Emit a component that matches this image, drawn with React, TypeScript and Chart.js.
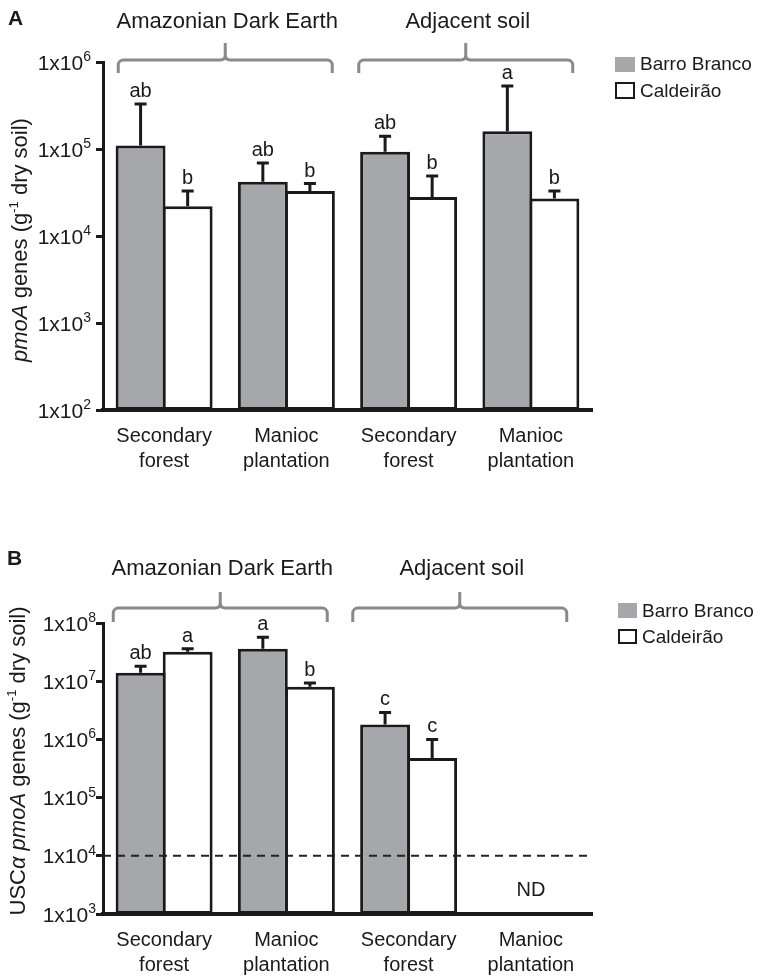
import React, { useEffect, useRef } from "react";
import { Chart, registerables } from "chart.js";

Chart.register(...registerables);

// ---------------- data ----------------
const categories: string[][] = [
  ["Secondary", "forest"],
  ["Manioc", "plantation"],
  ["Secondary", "forest"],
  ["Manioc", "plantation"],
];
const seriesNames = ["Barro Branco", "Caldeirão"];
const groupLabels = ["Amazonian Dark Earth", "Adjacent soil"];

// Panel A: pmoA genes
const aBarro = [1.1e5, 4.2e4, 9.3e4, 1.6e5];
const aBarroErrTop = [3.3e5, 6.9e4, 1.4e5, 5.3e5];
const aCald = [2.2e4, 3.3e4, 2.8e4, 2.7e4];
const aCaldErrTop = [3.3e4, 4.0e4, 4.9e4, 3.3e4];
const aBarroLetters = ["ab", "ab", "ab", "a"];
const aCaldLetters = ["b", "b", "b", "b"];
const aTicks = [1e2, 1e3, 1e4, 1e5, 1e6];

// Panel B: USCα pmoA genes
const bBarro = [1.4e7, 3.6e7, 1.8e6, null];
const bBarroErrTop = [1.8e7, 5.7e7, 2.9e6, null];
const bCald = [3.2e7, 8.0e6, 4.8e5, null];
const bCaldErrTop = [3.6e7, 9.3e6, 1.0e6, null];
const bBarroLetters = ["ab", "a", "c", ""];
const bCaldLetters = ["a", "b", "c", ""];
const bTicks = [1e3, 1e4, 1e5, 1e6, 1e7, 1e8];
const bDetectionLimit = 1e4;
const bNotDetectedIndex = 3;
const bNotDetectedText = "ND";

// ---------------- styling ----------------
const FONT = '"Liberation Sans", Arial, Helvetica, sans-serif';
const INK = "#1a1a1a";
const GRAY = "#a6a7aa";
const BRACKET = "#8a8a8a";

type Run = [string, "n" | "i" | "sup"];

type PanelSpec = {
  barro: (number | null)[];
  barroErr: (number | null)[];
  cald: (number | null)[];
  caldErr: (number | null)[];
  barroLetters: string[];
  caldLetters: string[];
  ticks: number[];
  canvasH: number;
  padTop: number;
  xAxisH: number;
  tickGap: number;
  bracket: { labelBase: number; h: number; end: number; peak: number; shifts: number[] };
  legend: {
    box1: number[];
    box2: number[];
    text1Base: number;
    text2Base: number;
    textX: number;
  };
  panelLabel: { text: string; x: number; base: number };
  title: { runs: Run[]; cx: number; cy: number };
  dashed?: number;
  nd?: { index: number; text: string };
};

const panelA: PanelSpec = {
  barro: aBarro,
  barroErr: aBarroErrTop,
  cald: aCald,
  caldErr: aCaldErrTop,
  barroLetters: aBarroLetters,
  caldLetters: aCaldLetters,
  ticks: aTicks,
  canvasH: 488,
  padTop: 62,
  xAxisH: 78,
  tickGap: 12,
  bracket: { labelBase: 28, h: 60, end: 73, peak: 43, shifts: [0, -4] },
  legend: { box1: [615, 57, 20, 15], box2: [616, 83, 18, 15], text1Base: 70, text2Base: 97, textX: 640 },
  panelLabel: { text: "A", x: 8, base: 25 },
  title: {
    runs: [["pmoA", "i"], [" genes (g", "n"], ["-1", "sup"], [" dry soil)", "n"]],
    cx: 20,
    cy: 240,
  },
};

const panelB: PanelSpec = {
  barro: bBarro,
  barroErr: bBarroErrTop,
  cald: bCald,
  caldErr: bCaldErrTop,
  barroLetters: bBarroLetters,
  caldLetters: bCaldLetters,
  ticks: bTicks,
  canvasH: 489,
  padTop: 135,
  xAxisH: 63,
  tickGap: 7,
  bracket: { labelBase: 87, h: 120, end: 134, peak: 104, shifts: [-5, -10] },
  legend: { box1: [618, 115, 19, 15], box2: [619, 142, 17, 13], text1Base: 129, text2Base: 155, textX: 642 },
  panelLabel: { text: "B", x: 7, base: 77 },
  title: {
    runs: [["USC", "n"], ["α", "i"], [" ", "n"], ["pmoA", "i"], [" genes (g", "n"], ["-1", "sup"], [" dry soil)", "n"]],
    cx: 18,
    cy: 273,
  },
  dashed: bDetectionLimit,
  nd: { index: bNotDetectedIndex, text: bNotDetectedText },
};

function drawRuns(ctx: CanvasRenderingContext2D, runs: Run[], size: number) {
  const fontFor = (k: string) =>
    k === "i" ? `italic ${size}px ${FONT}` : k === "sup" ? `${Math.round(size * 0.6)}px ${FONT}` : `${size}px ${FONT}`;
  let total = 0;
  const widths = runs.map(([t, k]) => {
    ctx.font = fontFor(k);
    const w = ctx.measureText(t).width;
    total += w;
    return w;
  });
  let x = -total / 2;
  ctx.textAlign = "left";
  runs.forEach(([t, k], i) => {
    ctx.font = fontFor(k);
    ctx.fillText(t, x, k === "sup" ? 7 - size * 0.4 : 7);
    x += widths[i];
  });
}

function drawBracket(ctx: CanvasRenderingContext2D, x1: number, x2: number, h: number, end: number, peak: number) {
  const cx = (x1 + x2) / 2;
  const r = 5;
  ctx.beginPath();
  ctx.moveTo(x1, end);
  ctx.arcTo(x1, h, x1 + r, h, r);
  ctx.lineTo(cx - r, h);
  ctx.quadraticCurveTo(cx, h, cx, h - r);
  ctx.lineTo(cx, peak);
  ctx.moveTo(x2, end);
  ctx.arcTo(x2, h, x2 - r, h, r);
  ctx.lineTo(cx + r, h);
  ctx.quadraticCurveTo(cx, h, cx, h - r);
  ctx.stroke();
}

function makeOverlay(p: PanelSpec) {
  return {
    id: "overlay",
    afterDraw(chart: any) {
      const ctx: CanvasRenderingContext2D = chart.ctx;
      const ca = chart.chartArea;
      const xs = chart.scales.x;
      const ys = chart.scales.y;
      ctx.save();
      ctx.fillStyle = INK;
      ctx.strokeStyle = INK;

      // detection limit line
      if (p.dashed) {
        const y = ys.getPixelForValue(p.dashed);
        ctx.save();
        ctx.setLineDash([8, 6]);
        ctx.lineWidth = 2;
        ctx.strokeStyle = "#222";
        ctx.beginPath();
        ctx.moveTo(ca.left, y);
        ctx.lineTo(ca.right, y);
        ctx.stroke();
        ctx.restore();
      }

      // error bars + letters
      const sets: [(number | null)[], (number | null)[], string[]][] = [
        [p.barro, p.barroErr, p.barroLetters],
        [p.cald, p.caldErr, p.caldLetters],
      ];
      sets.forEach(([vals, errs, letters], di) => {
        const meta = chart.getDatasetMeta(di);
        meta.data.forEach((el: any, j: number) => {
          const v = vals[j];
          const e = errs[j];
          if (v == null || e == null) return;
          const x = el.x;
          const yTop = el.y;
          const yE = ys.getPixelForValue(e);
          ctx.lineWidth = 3;
          ctx.beginPath();
          ctx.moveTo(x, yTop);
          ctx.lineTo(x, yE);
          ctx.moveTo(x - 6, yE);
          ctx.lineTo(x + 6, yE);
          ctx.stroke();
          ctx.font = `20px ${FONT}`;
          ctx.textAlign = "center";
          ctx.fillText(letters[j], x, yE - 7);
        });
      });

      // ND
      if (p.nd) {
        ctx.font = `20px ${FONT}`;
        ctx.textAlign = "center";
        ctx.fillText(p.nd.text, xs.getPixelForValue(p.nd.index), ca.bottom - 18);
      }

      // y tick labels
      for (const v of p.ticks) {
        const y = ys.getPixelForValue(v);
        const exp = String(Math.round(Math.log10(v)));
        const right = ca.left - p.tickGap;
        ctx.textAlign = "left";
        ctx.font = `14px ${FONT}`;
        const ew = ctx.measureText(exp).width;
        ctx.fillText(exp, right - ew, y - 1);
        ctx.font = `21px ${FONT}`;
        const bw = ctx.measureText("1x10").width;
        ctx.fillText("1x10", right - ew - bw, y + 7.5);
      }

      // x category labels
      ctx.font = `20px ${FONT}`;
      ctx.textAlign = "center";
      categories.forEach((lines, i) => {
        const x = xs.getPixelForValue(i);
        lines.forEach((t, k) => ctx.fillText(t, x, ca.bottom + 32 + k * 25));
      });

      // brackets
      ctx.strokeStyle = BRACKET;
      ctx.lineWidth = 3;
      groupLabels.forEach((lab, g) => {
        const c = (xs.getPixelForValue(g * 2) + xs.getPixelForValue(g * 2 + 1)) / 2 + p.bracket.shifts[g];
        drawBracket(ctx, c - 107, c + 107, p.bracket.h, p.bracket.end, p.bracket.peak);
        ctx.font = `22px ${FONT}`;
        ctx.textAlign = "center";
        ctx.fillText(lab, c + 2, p.bracket.labelBase);
      });

      // legend
      const L = p.legend;
      ctx.fillStyle = GRAY;
      ctx.fillRect(L.box1[0], L.box1[1], L.box1[2], L.box1[3]);
      ctx.fillStyle = "#fff";
      ctx.fillRect(L.box2[0], L.box2[1], L.box2[2], L.box2[3]);
      ctx.strokeStyle = INK;
      ctx.lineWidth = 2;
      ctx.strokeRect(L.box2[0], L.box2[1], L.box2[2], L.box2[3]);
      ctx.fillStyle = INK;
      ctx.font = `19px ${FONT}`;
      ctx.textAlign = "left";
      ctx.fillText(seriesNames[0], L.textX, L.text1Base);
      ctx.fillText(seriesNames[1], L.textX, L.text2Base);

      // panel label
      ctx.font = `bold 21px ${FONT}`;
      ctx.fillText(p.panelLabel.text, p.panelLabel.x, p.panelLabel.base);

      // y axis title
      ctx.save();
      ctx.translate(p.title.cx, p.title.cy);
      ctx.rotate(-Math.PI / 2);
      drawRuns(ctx, p.title.runs, 22);
      ctx.restore();

      ctx.restore();
    },
  };
}

function makeConfig(p: PanelSpec): any {
  const barCommon = {
    borderColor: INK,
    borderWidth: 3,
    borderSkipped: false,
    categoryPercentage: 0.77,
    barPercentage: 1.06,
  };
  return {
    type: "bar",
    data: {
      labels: categories.map((c) => c.join(" ")),
      datasets: [
        { label: seriesNames[0], data: p.barro, backgroundColor: GRAY, ...barCommon },
        { label: seriesNames[1], data: p.cald, backgroundColor: "#ffffff", ...barCommon },
      ],
    },
    options: {
      responsive: false,
      animation: false,
      layout: { padding: { left: 0, right: 166, top: p.padTop, bottom: 0 } },
      plugins: { legend: { display: false }, tooltip: { enabled: false } },
      scales: {
        x: {
          grid: { display: false, drawTicks: false },
          border: { display: true, color: INK, width: 4 },
          ticks: { display: false },
          afterFit: (s: any) => {
            s.height = p.xAxisH;
          },
        },
        y: {
          type: "logarithmic",
          min: p.ticks[0],
          max: p.ticks[p.ticks.length - 1],
          afterBuildTicks: (s: any) => {
            s.ticks = p.ticks.map((v) => ({ value: v }));
          },
          ticks: { display: false },
          grid: {
            drawOnChartArea: false,
            drawTicks: true,
            tickLength: 7,
            tickColor: INK,
            tickWidth: 3,
            color: INK,
            lineWidth: 3,
          },
          border: { display: true, color: INK, width: 3 },
          afterFit: (s: any) => {
            s.width = 103;
          },
        },
      },
    },
    plugins: [makeOverlay(p)],
  };
}

function Panel({ spec }: { spec: PanelSpec }) {
  const ref = useRef<HTMLCanvasElement | null>(null);
  useEffect(() => {
    if (!ref.current) return;
    const chart = new Chart(ref.current, makeConfig(spec));
    return () => chart.destroy();
  }, [spec]);
  return <canvas ref={ref} width={758} height={spec.canvasH} style={{ display: "block", width: 758, height: spec.canvasH }} />;
}

export default function App() {
  return (
    <div style={{ position: "absolute", left: 0, top: 0, width: 758, height: 977, background: "#fff" }}>
      <Panel spec={panelA} />
      <Panel spec={panelB} />
    </div>
  );
}
